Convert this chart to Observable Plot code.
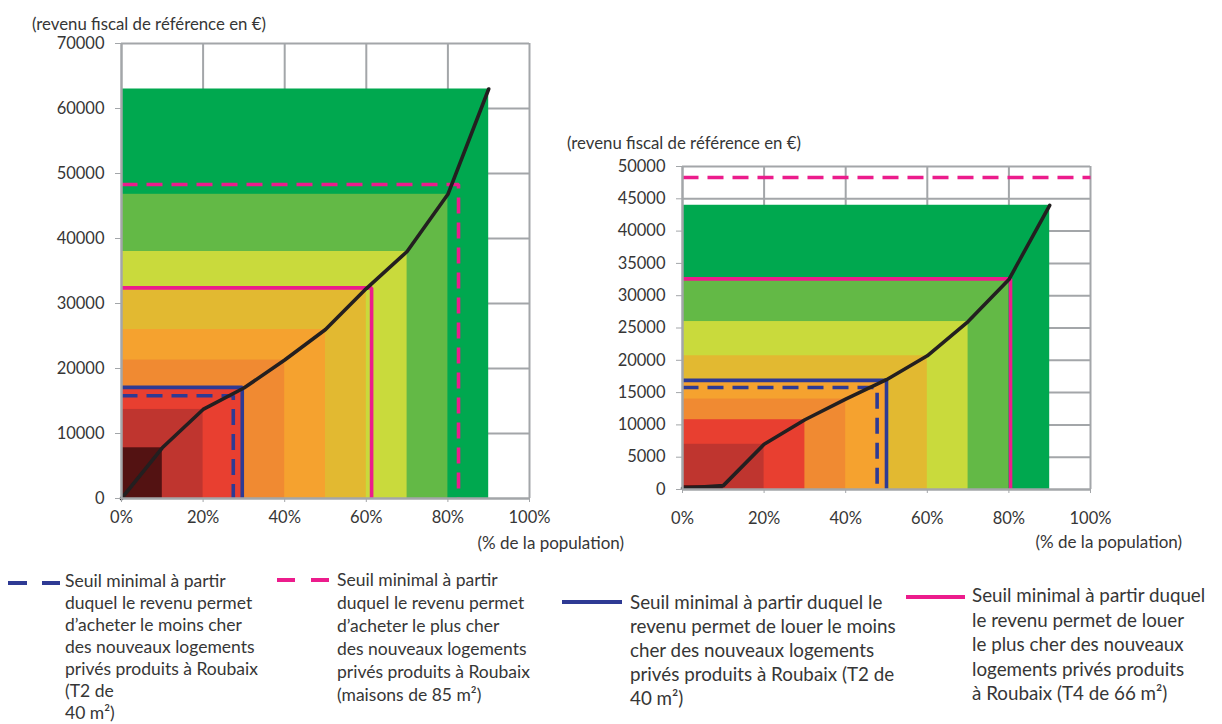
<!DOCTYPE html>
<html><head><meta charset="utf-8">
<script src="https://cdn.jsdelivr.net/npm/d3@7"></script>
<script src="https://cdn.jsdelivr.net/npm/@observablehq/plot@0.6"></script>
<style>
body{margin:0;background:#fff;font-family:Lato,"Noto Sans",sans-serif;color:#363636}
#root{position:relative;width:1222px;height:724px;overflow:hidden;background:#fff}
.abs{position:absolute}
.title{font-size:16.8px;white-space:nowrap;line-height:20px}
.leg{white-space:nowrap}
svg{overflow:visible}
</style></head><body><div id="root"></div>
<script>
// ---- data ----
const curveX = [0, 10, 20, 30, 40, 50, 60, 70, 80, 90];
const leftIncome = [0, 7800, 13700, 17000, 21300, 26000, 32300, 38000, 46800, 63000];
const rightIncome = [200, 600, 7000, 10800, 14000, 17000, 20700, 26000, 32500, 44000];
const deciles = [10, 20, 30, 40, 50, 60, 70, 80, 90];
const bandColors = ["#531212", "#bf352f", "#e83f30", "#f08a32", "#f5a22f", "#e2b931", "#c9da3c", "#63b946", "#00a84f"];
const thresholdKeys = ["achatMin", "louerMin", "louerMax", "achatMax"];
const thresholdColors = ["#2e3a94", "#2e3a94", "#ec1c8c", "#ec1c8c"];
const thresholdDashed = [true, false, false, true];
const leftThresholdX = [27.4, 29.6, 61.3, 82.6];
const leftThresholdY = [15800, 17100, 32400, 48300];
const leftThresholdVertical = [true, true, true, true];
const rightThresholdX = [47.7, 50, 80.4, 100];
const rightThresholdY = [15800, 16900, 32600, 48300];
const rightThresholdVertical = [true, true, true, false];
const xTicks = [0, 20, 40, 60, 80, 100];
const leftYTicks = [0, 10000, 20000, 30000, 40000, 50000, 60000, 70000];
const rightYTicks = [0, 5000, 10000, 15000, 20000, 25000, 30000, 35000, 40000, 45000, 50000];
const yTitle = "(revenu fiscal de référence en €)";
const xTitle = "(% de la population)";
const legendItems = [
  {lines: ["Seuil minimal à partir", "duquel le revenu permet", "d’acheter le moins cher", "des nouveaux logements", "privés produits à Roubaix", "(T2 de", "40 m²)"]},
  {lines: ["Seuil minimal à partir", "duquel le revenu permet", "d’acheter le plus cher", "des nouveaux logements", "privés produits à Roubaix", "(maisons de 85 m²)"]},
  {lines: ["Seuil minimal à partir duquel le", "revenu permet de louer le moins", "cher des nouveaux logements", "privés produits à Roubaix (T2 de", "40 m²)"]},
  {lines: ["Seuil minimal à partir duquel", "le revenu permet de louer", "le plus cher des nouveaux", "logements privés produits", "à Roubaix (T4 de 66 m²)"]}
];

const GRID = "#a3a6a9";
const TXT = "#363636";

function makeChart(o) {
  const bands = deciles.map((d, i) => ({x2: d, top: o.income[i + 1], color: bandColors[i]})).reverse();
  const curve = curveX.map((x, i) => ({x, y: o.income[i]}));
  const thrMarks = thresholdKeys.map((k, i) => {
    const pts = [{x: 0, y: o.thrY[i]}, {x: o.thrX[i], y: o.thrY[i]}];
    if (o.thrV[i]) pts.push({x: o.thrX[i], y: 0});
    return Plot.line(pts, {x: "x", y: "y", stroke: thresholdColors[i], strokeWidth: 3.6,
      strokeDasharray: thresholdDashed[i] ? "16,9" : null, strokeLinejoin: "miter", strokeLinecap: "butt"});
  });
  return Plot.plot({
    width: o.width, height: o.height,
    marginLeft: o.ml, marginRight: o.mr, marginTop: o.mt, marginBottom: o.mb,
    x: {domain: [0, 100]},
    y: {domain: [0, o.yMax]},
    color: {type: "identity"},
    style: {fontFamily: "Lato, 'Noto Sans', sans-serif", fontSize: "16px", background: "transparent", overflow: "visible"},
    marks: [
      Plot.ruleY(o.yTicks.filter(t => t > 0), {stroke: GRID, strokeWidth: 2}),
      Plot.ruleX(xTicks.filter(t => t > 0), {stroke: GRID, strokeWidth: 2}),
      Plot.rect(bands, {x1: () => 0, x2: "x2", y1: () => 0, y2: "top", fill: "color"}),
      ...thrMarks,
      Plot.line(curve, {x: "x", y: "y", stroke: "#231f20", strokeWidth: 3.6, strokeLinejoin: "round"}),
      Plot.ruleX([0], {stroke: GRID, strokeWidth: 2.5}),
      Plot.ruleY([0], {stroke: GRID, strokeWidth: 2.5}),
      Plot.axisY(o.yTicks, {tickFormat: d => String(d), tickSize: 6, tickPadding: 11, stroke: GRID, fill: TXT, fontSize: 16.5, label: null}),
      Plot.axisX(xTicks, {tickFormat: d => d + "%", tickSize: 4, tickPadding: o.xPad, stroke: GRID, fill: TXT, fontSize: 16.5, label: null}),
      Plot.text([xTitle], {x: () => 100, y: () => 0, text: d => d, dx: o.popDx, dy: o.popDy, textAnchor: "start", fill: TXT, fontSize: 17})
    ]
  });
}

const root = document.getElementById("root");

function place(el, left, top) {
  el.classList.add("abs");
  el.style.left = left + "px";
  el.style.top = top + "px";
  root.appendChild(el);
}

const left = makeChart({income: leftIncome, thrX: leftThresholdX, thrY: leftThresholdY, thrV: leftThresholdVertical,
  yMax: 70000, yTicks: leftYTicks, width: 560, height: 525, ml: 121, mr: 31, mt: 10, mb: 60, xPad: 9, popDx: -52, popDy: 45});
place(left, 0, 33);

const right = makeChart({income: rightIncome, thrX: rightThresholdX, thrY: rightThresholdY, thrV: rightThresholdVertical,
  yMax: 50000, yTicks: rightYTicks, width: 570, height: 404, ml: 122, mr: 40, mt: 16, mb: 65, xPad: 19, popDx: -55, popDy: 53});
place(right, 560, 150);

function title(text, x, yc) {
  const d = document.createElement("div");
  d.className = "title";
  d.textContent = text;
  place(d, x, yc - 10);
}
title(yTitle, 32, 24);
title(yTitle, 567, 143);

// legends
const legendLayout = [
  {sx: 8, sw: 52, sy: 583, dash: "19,15", tx: 65, ty: 570, fs: 17.5, lh: 22},
  {sx: 277, sw: 55, sy: 580, dash: "18,16", tx: 337, ty: 568, fs: 17.5, lh: 23},
  {sx: 562, sw: 60, sy: 602, dash: null, tx: 630, ty: 590, fs: 18.8, lh: 24},
  {sx: 906, sw: 59, sy: 597, dash: null, tx: 972, ty: 583, fs: 18.8, lh: 24.5}
];
legendItems.forEach((item, i) => {
  const L = legendLayout[i];
  const svg = d3.create("svg").attr("width", L.sw).attr("height", 8);
  svg.append("line").attr("x1", 0).attr("x2", L.sw).attr("y1", 4).attr("y2", 4)
    .attr("stroke", thresholdColors[i === 0 ? 0 : i === 1 ? 3 : i === 2 ? 1 : 2])
    .attr("stroke-width", 4).attr("stroke-dasharray", L.dash);
  place(svg.node(), L.sx, L.sy - 4);
  const d = document.createElement("div");
  d.className = "leg";
  d.style.fontSize = L.fs + "px";
  d.style.lineHeight = L.lh + "px";
  d.innerHTML = item.lines.map(s => s.replace(/&/g, "&amp;")).join("<br>");
  place(d, L.tx, L.ty);
});
</script></body></html>
